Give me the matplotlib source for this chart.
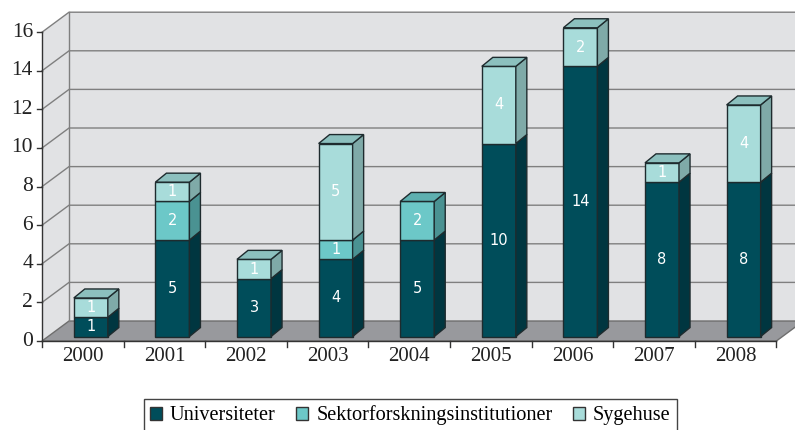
import matplotlib.pyplot as plt
from matplotlib.patches import Polygon, Patch

# data
years = ["2000", "2001", "2002", "2003", "2004", "2005", "2006", "2007", "2008"]
universiteter = [1, 5, 3, 4, 5, 10, 14, 8, 8]
sektor = [0, 2, 0, 1, 2, 0, 0, 0, 0]
sygehuse = [1, 1, 1, 5, 0, 4, 2, 1, 4]
yticks = [0, 2, 4, 6, 8, 10, 12, 14, 16]

series = [
    ("Universiteter", universiteter, "#004d5a", "#003640", "#0b5f6a"),
    ("Sektorforskningsinstitutioner", sektor, "#6cc8c8", "#4a9292", "#5eb0b0"),
    ("Sygehuse", sygehuse, "#a8dcda", "#7faaa8", "#8cc0be"),
]

fig = plt.figure(figsize=(7.95, 4.30), dpi=100)
ax = fig.add_axes([0, 0, 1, 1])
ax.set_xlim(-0.515, 9.228)
ax.set_ylim(-4.611, 17.668)
ax.axis("off")

n = len(years)
top = yticks[-1]
DX, DY = 0.331, 1.036          # depth of the chart box
wall = "#e1e2e4"
grid = "#7f7f7f"

# walls and floor
ax.add_patch(Polygon([(DX, DY), (n + DX, DY), (n + DX, top + DY), (DX, top + DY)],
                     fc=wall, ec="none", zorder=1))
ax.add_patch(Polygon([(0, 0), (DX, DY), (DX, top + DY), (0, top)],
                     fc=wall, ec="none", zorder=1))
ax.add_patch(Polygon([(0, 0), (n, 0), (n + DX, DY), (DX, DY)],
                     fc="#98999d", ec="#6e6e6e", lw=1, zorder=2))
for v in yticks[1:]:
    ax.plot([0, DX, n + DX], [v, v + DY, v + DY], color=grid, lw=1, zorder=2)
ax.plot([DX, DX], [DY, top + DY], color=grid, lw=1, zorder=2)

# bars
bw = 0.417
ox, oy = 0.098, 0.23
bdx, bdy = 0.135, 0.466
edge = "#1e2b2e"
for i in range(n):
    x0 = i + (1 - bw) / 2 + ox
    bottom = 0
    totals = [s[1][i] for s in series]
    last = max(k for k, v in enumerate(totals) if v > 0)
    for k, (name, vals, front, side, topc) in enumerate(series):
        v = vals[i]
        if v <= 0:
            continue
        b, t = bottom + oy, bottom + v + oy
        ax.add_patch(Polygon([(x0, b), (x0 + bw, b), (x0 + bw, t), (x0, t)],
                             fc=front, ec=edge, lw=1, zorder=3))
        ax.add_patch(Polygon([(x0 + bw, b), (x0 + bw + bdx, b + bdy),
                              (x0 + bw + bdx, t + bdy), (x0 + bw, t)],
                             fc=side, ec=edge, lw=1, zorder=3))
        if k == last:
            ax.add_patch(Polygon([(x0, t), (x0 + bdx, t + bdy),
                                  (x0 + bw + bdx, t + bdy), (x0 + bw, t)],
                                 fc=topc, ec=edge, lw=1, zorder=3))
        ax.text(x0 + bw / 2, (b + t) / 2, str(v), color="white", fontsize=10.5,
                family="DejaVu Sans", ha="center", va="center", zorder=4)
        bottom += v

# axes lines and ticks
axc = "#333333"
ax.plot([0, 0], [0, top], color=axc, lw=1, zorder=5)
ax.plot([0, n], [0, 0], color=axc, lw=1, zorder=5)
for v in yticks:
    ax.plot([-0.06, 0], [v, v], color=axc, lw=1, zorder=5)
    ax.text(-0.11, v, str(v), ha="right", va="center", fontsize=15.5,
            family="Liberation Serif", color="#222222")
for i in range(n + 1):
    ax.plot([i, i], [0, -0.31], color=axc, lw=1, zorder=5)
for i, y in enumerate(years):
    ax.text(i + 0.5, -0.8, y, ha="center", va="center", fontsize=15,
            family="Liberation Serif", color="#222222")

handles = [Patch(fc=s[2], ec="#333333", lw=1) for s in series]
leg = fig.legend(handles, [s[0] for s in series], loc="lower center",
                 bbox_to_anchor=(0.516, -0.027), ncol=3,
                 prop={"family": "Liberation Serif", "size": 14.6},
                 handlelength=0.6, handleheight=0.6, handletextpad=0.4,
                 columnspacing=1.0, borderpad=0.3, fancybox=False,
                 edgecolor="#444444", framealpha=1)
leg.get_frame().set_linewidth(1)

fig.savefig("out.png", dpi=100)
